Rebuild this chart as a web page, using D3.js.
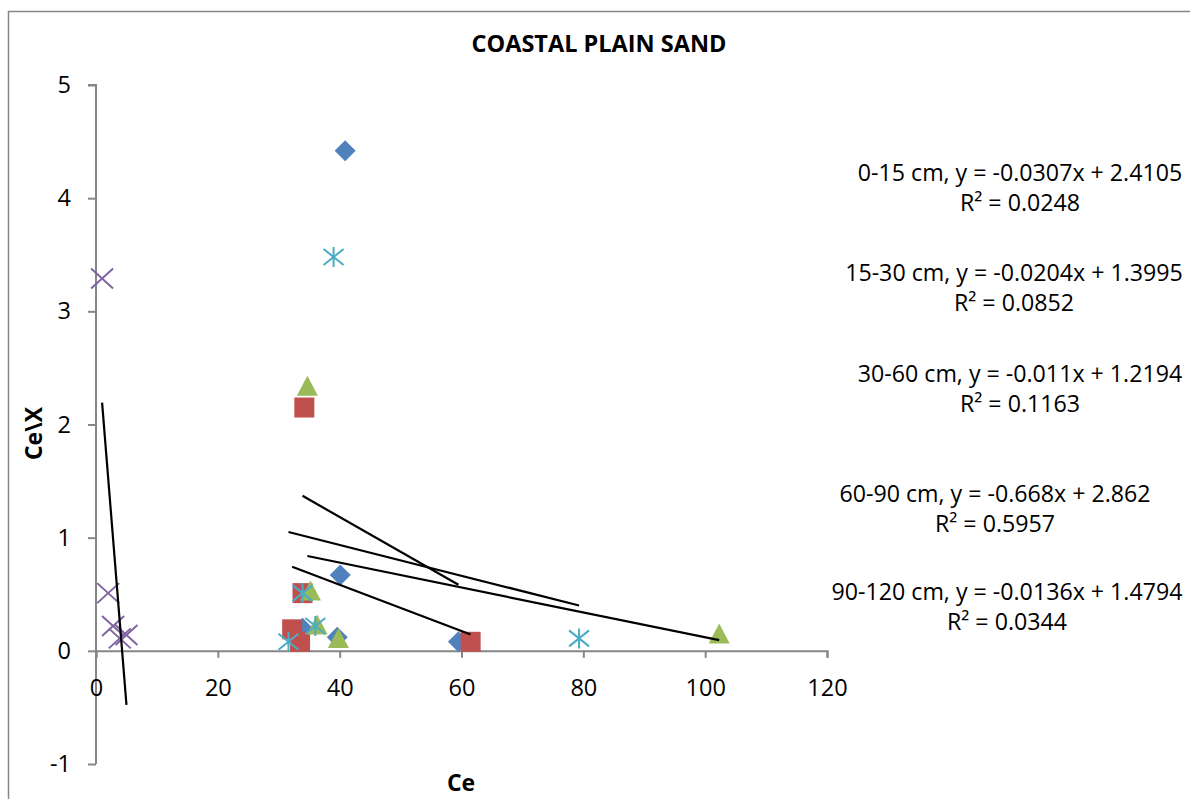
<!DOCTYPE html>
<html>
<head>
<meta charset="utf-8">
<script src="https://cdn.jsdelivr.net/npm/d3@7"></script>
<style>
  body { margin: 0; background: #fff; }
  text { font-family: "Open Sans", "Noto Sans", sans-serif; }
</style>
</head>
<body>
<svg id="chart" width="1190" height="799"></svg>
<script>
// series names and colours (Excel defaults)
const seriesNames = ["0-15 cm", "15-30 cm", "30-60 cm", "60-90 cm", "90-120 cm"];
const seriesColors = ["#4F81BD", "#C0504D", "#9BBB59", "#8064A2", "#4BACC6"];
const seriesShapes = ["diamond", "square", "triangle", "cross", "star"];

// points, [Ce, Ce\X]
const depth0_15 = [[40.9, 4.42], [40.1, 0.67], [59.5, 0.08], [39.6, 0.12], [33.9, 0.20]];
const depth15_30 = [[34.2, 2.15], [33.9, 0.51], [32.2, 0.19], [33.5, 0.08], [61.5, 0.08]];
const depth30_60 = [[34.7, 2.33], [35.2, 0.52], [36.3, 0.22], [39.8, 0.10], [102.3, 0.14]];
const depth60_90 = [[1.0, 3.29], [2.0, 0.51], [2.8, 0.22], [3.9, 0.11], [5.0, 0.14]];
const depth90_120 = [[39.0, 3.48], [33.9, 0.51], [36.0, 0.22], [31.6, 0.08], [79.3, 0.11]];

// linear trendlines as printed on the chart
const slopes = [-0.0307, -0.0204, -0.011, -0.668, -0.0136];
const intercepts = [2.4105, 1.3995, 1.2194, 2.862, 1.4794];
const rSquared = ["0.0248", "0.0852", "0.1163", "0.5957", "0.0344"];

const xTicks = [0, 20, 40, 60, 80, 100, 120];
const yTicks = [-1, 0, 1, 2, 3, 4, 5];

const allSeries = [depth0_15, depth15_30, depth30_60, depth60_90, depth90_120];

const svg = d3.select("#chart");
const axisColor = "#868686";

// chart border
svg.append("rect")
    .attr("x", 8.5).attr("y", 11.5)
    .attr("width", 1300).attr("height", 900)
    .attr("fill", "none").attr("stroke", axisColor).attr("stroke-width", 1.5);

const x = d3.scaleLinear().domain([0, 120]).range([96, 827]);
const y = d3.scaleLinear().domain([-1, 5]).range([764, 85]);

const fmtTick = d => String(d); // plain hyphen minus, like Excel

const yAxis = svg.append("g")
    .attr("transform", `translate(${x(0)},0)`)
    .call(d3.axisLeft(y).tickValues(yTicks).tickSize(8).tickPadding(17).tickFormat(fmtTick));
// x axis crosses at y = 0
const xAxis = svg.append("g")
    .attr("transform", `translate(0,${y(0)})`)
    .call(d3.axisBottom(x).tickValues(xTicks).tickSize(7).tickPadding(21).tickFormat(fmtTick));

[yAxis, xAxis].forEach(a => {
    a.select(".domain").attr("stroke", axisColor).attr("stroke-width", 2);
    a.selectAll(".tick line").attr("stroke", axisColor).attr("stroke-width", 2);
    a.selectAll(".tick text").attr("fill", "#000")
        .style("font-size", "23.5px").style("font-family", "'Open Sans', sans-serif");
});
yAxis.select(".domain").attr("d", `M-8,${y(5)}H0V${y(-1)}`);

// markers
const size = 20;
function markerPath(shape) {
    const h = size / 2;
    if (shape === "diamond") return `M0,${-h * 1.05}L${h * 1.05},0L0,${h * 1.05}L${-h * 1.05},0Z`;
    if (shape === "square") return `M${-h},${-h}H${h}V${h}H${-h}Z`;
    if (shape === "triangle") return `M0,${-h * 1.15}L${h * 1.05},${h * 0.85}H${-h * 1.05}Z`;
    if (shape === "cross") return `M${-h * 1.1},${-h}L${h * 1.1},${h}M${h * 1.1},${-h}L${-h * 1.1},${h}`;
    return `M${-h},${-h * 0.8}L${h},${h * 0.8}M${h},${-h * 0.8}L${-h},${h * 0.8}M0,${-h}V${h}`;
}

const plot = svg.append("g");
allSeries.forEach((pts, i) => {
    const shape = seriesShapes[i];
    const line = shape === "cross" || shape === "star";
    plot.append("g").selectAll("path").data(pts).enter().append("path")
        .attr("transform", d => `translate(${x(d[0])},${y(d[1])})`)
        .attr("d", markerPath(shape))
        .attr("fill", line ? "none" : seriesColors[i])
        .attr("stroke", line ? seriesColors[i] : "none")
        .attr("stroke-width", 2);
});

// trendlines over the x range of each series
allSeries.forEach((pts, i) => {
    const [x0, x1] = d3.extent(pts, d => d[0]);
    plot.append("line")
        .attr("x1", x(x0)).attr("y1", y(slopes[i] * x0 + intercepts[i]))
        .attr("x2", x(x1)).attr("y2", y(slopes[i] * x1 + intercepts[i]))
        .attr("stroke", "#000").attr("stroke-width", 2.2);
});

// trendline labels
const labelPos = [[1020, 181], [1014, 281], [1020, 382], [995, 502], [1007, 600]];
const fmtB = d => (d < 0 ? "- " : "+ ") + Math.abs(d);
seriesNames.forEach((name, i) => {
    const t = svg.append("text")
        .attr("text-anchor", "middle")
        .style("font-size", "23.2px")
        .attr("fill", "#000");
    t.append("tspan").attr("x", labelPos[i][0]).attr("y", labelPos[i][1])
        .text(`${name}, y = ${slopes[i]}x ${fmtB(intercepts[i])}`);
    t.append("tspan").attr("x", labelPos[i][0]).attr("y", labelPos[i][1] + 30)
        .text(`R² = ${rSquared[i]}`);
});

// titles
svg.append("text")
    .attr("x", 599).attr("y", 52)
    .attr("text-anchor", "middle")
    .style("font-size", "23.5px").style("font-weight", "bold")
    .text("COASTAL PLAIN SAND");

svg.append("text")
    .attr("transform", `translate(42,${y(1.92)}) rotate(-90)`)
    .attr("text-anchor", "middle")
    .style("font-size", "23px").style("font-weight", "bold")
    .text("Ce\\X");

svg.append("text")
    .attr("x", 461).attr("y", 791)
    .attr("text-anchor", "middle")
    .style("font-size", "23px").style("font-weight", "bold")
    .text("Ce");
</script>
</body>
</html>
